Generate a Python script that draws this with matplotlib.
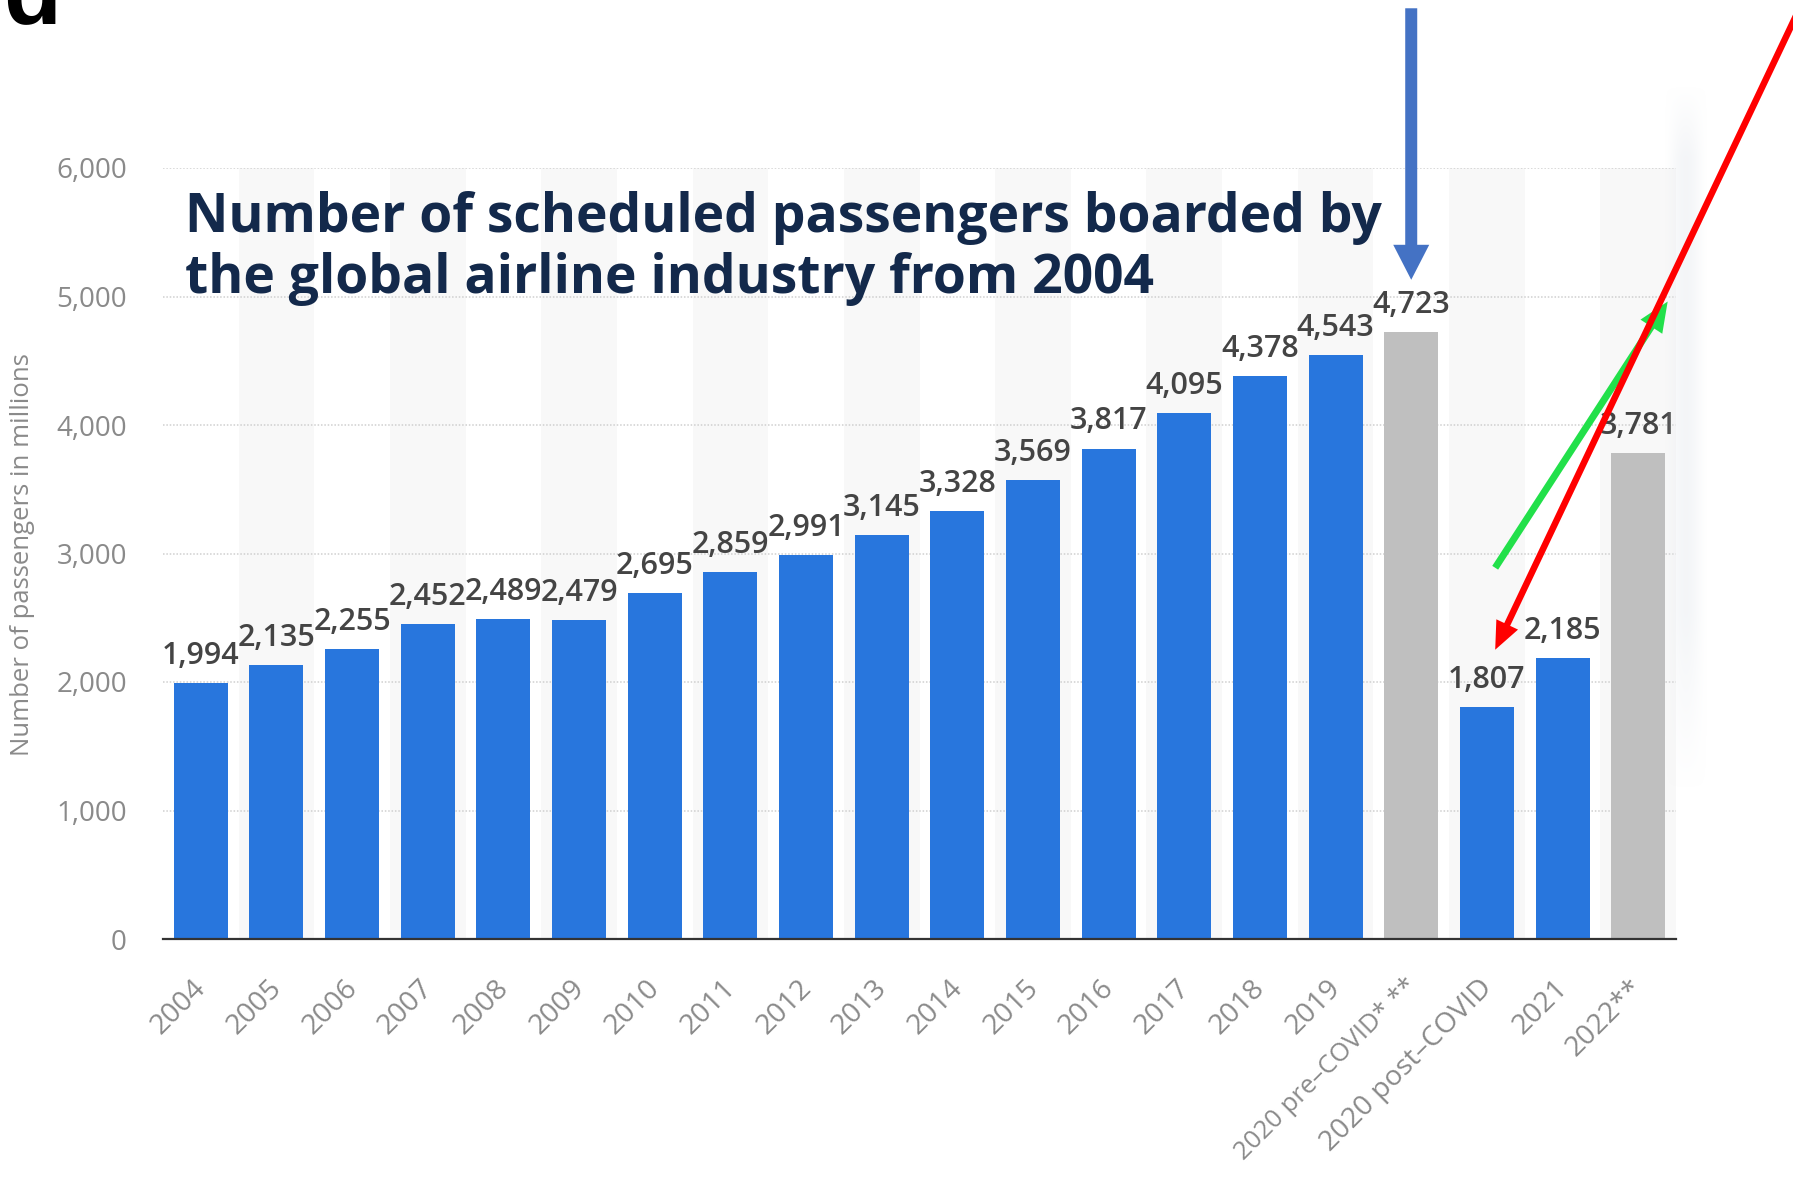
import numpy as np
import matplotlib
matplotlib.use("Agg")
import matplotlib.pyplot as plt
import matplotlib.transforms as mtransforms
from matplotlib.patches import FancyArrow

plt.rcParams['font.family'] = ['Open Sans', 'DejaVu Sans']

categories = ['2004', '2005', '2006', '2007', '2008', '2009', '2010', '2011',
              '2012', '2013', '2014', '2015', '2016', '2017', '2018', '2019',
              '2020 pre\u2013COVID* **', '2020 post\u2013COVID', '2021', '2022**']
passengers = [1994, 2135, 2255, 2452, 2489, 2479, 2695, 2859, 2991, 3145,
              3328, 3569, 3817, 4095, 4378, 4543, 4723, 1807, 2185, 3781]
estimated = [False] * 16 + [True, False, False, True]   # grey = estimate / forecast
yticks = [0, 1000, 2000, 3000, 4000, 5000, 6000]

W, H = 1793, 1177
fig = plt.figure(figsize=(W / 100, H / 100), dpi=100)
fig.patch.set_facecolor('white')

ax = fig.add_axes([163 / W, 1 - 939 / H, (1676 - 163) / W, (939 - 168) / H])
x = np.arange(len(categories))

# light stripes behind every other column
for i in x[1::2]:
    ax.axvspan(i - 0.5, i + 0.5, color='#f8f8f8', lw=0, zorder=0)

colors = ['#bfbfbf' if e else '#2876dd' for e in estimated]
bars = ax.bar(x, passengers, width=0.714, color=colors, zorder=2)

for xi, v in zip(x, passengers):
    ax.annotate(f'{v:,}', (xi, v), xytext=(0, 13.7), textcoords='offset points',
                ha='center', va='baseline', fontsize=22, fontweight='semibold',
                color='#444444', zorder=3)

ax.set_xlim(-0.5, len(categories) - 0.5)
ax.set_ylim(0, 6000)
ax.set_yticks(yticks)
ax.set_yticklabels([f'{t:,}' for t in yticks])
ax.set_xticks(x)
ax.set_xticklabels(categories, rotation=45, ha='right', va='top')

ax.tick_params(axis='y', length=0, pad=26, labelsize=20, labelcolor='#8a8a8a')
ax.tick_params(axis='x', length=0, pad=25, labelsize=20.5, labelcolor='#8a8a8a')

# nudge the slanted labels so their ends sit on the bar centres
shift = mtransforms.ScaledTranslation(8 / 72, 0, fig.dpi_scale_trans)
for lab in ax.get_xticklabels():
    lab.set_transform(lab.get_transform() + shift)
ax.get_xticklabels()[16].set_fontsize(18.5)

ax.grid(axis='y', linestyle=(0, (1, 1.2)), color='#cfcfcf', linewidth=1.1, zorder=1)
ax.set_axisbelow(True)
for s in ['top', 'right', 'left']:
    ax.spines[s].set_visible(False)
ax.spines['bottom'].set_color('#333333')
ax.spines['bottom'].set_linewidth(1.6)
ax.spines['bottom'].set_zorder(4)
ax.set_facecolor('none')

fig.text(23 / W, 1 - 555 / H, 'Number of passengers in millions', rotation=90,
         ha='center', va='center', fontsize=18.5, color='#8a8a8a')

# title, two lines
title_kw = dict(fontsize=38.5, fontweight='bold', color='#13294b', va='baseline', ha='left')
fig.text(185 / W, 1 - 232 / H, 'Number of scheduled passengers boarded by', **title_kw)
fig.text(185 / W, 1 - 293 / H, 'the global airline industry from 2004', **title_kw)

# panel letter, mostly cut off by the top edge
fig.text(3 / W, 1 - 23 / H, 'd', fontsize=68, fontweight='bold',
         family='Liberation Sans', color='black', va='baseline', ha='left')

# overlay in pixel units for the callout arrows
ov = fig.add_axes([0, 0, 1, 1], zorder=5)
ov.set_xlim(0, W)
ov.set_ylim(H, 0)
ov.axis('off')
ov.patch.set_alpha(0)


def px(xd, yd):
    dx, dy = ax.transData.transform((xd, yd))
    return dx, H - dy


# faint shadow strip at the right edge of the plot
gx = np.linspace(0, 1, 60)
gy = np.linspace(0, 1, 200)
ax_prof = np.sin(np.pi * gx) ** 1.5
ay_prof = np.clip(gy / 0.1, 0, 1) * np.clip((1 - gy) / 0.25, 0, 1)
alpha = 0.55 * np.outer(ay_prof, ax_prof)
img = np.zeros((200, 60, 4))
img[..., 0], img[..., 1], img[..., 2] = 0.925, 0.935, 0.95
img[..., 3] = alpha
ov.imshow(img, extent=(1664, 1708, 790, 85), origin='upper', aspect='auto',
          interpolation='bilinear', zorder=0)


def arrow(p0, p1, width, head_w, head_l, color, z):
    x0, y0 = px(*p0)
    x1, y1 = px(*p1)
    ov.add_patch(FancyArrow(x0, y0, x1 - x0, y1 - y0, width=width,
                            head_width=head_w, head_length=head_l,
                            length_includes_head=True, color=color, lw=0,
                            zorder=z, clip_on=False))


arrow((16, 7243), (16, 5130), 12, 36, 35, '#4472c4', 2)
arrow((17.11, 2889), (19.39, 4961), 7, 26, 30, '#22e04a', 2)
arrow((21.14, 7251), (17.11, 2251), 6.5, 24, 28, '#ff0000', 3)

fig.savefig('out.png', dpi=100)
